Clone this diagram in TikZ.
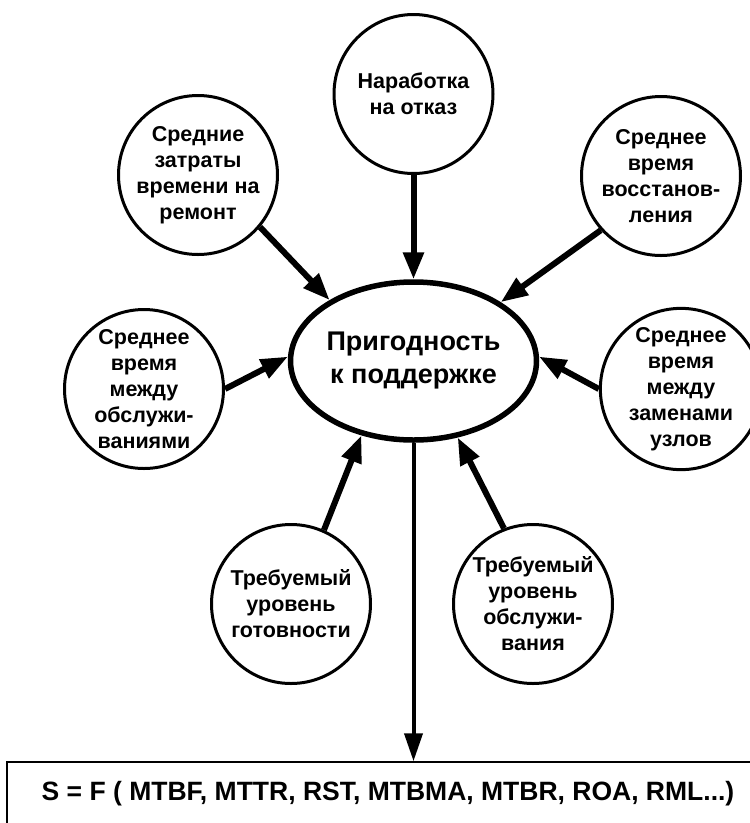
\documentclass[tikz,border=0pt]{standalone}
\usepackage{fontspec}
\setmainfont{Liberation Sans}
\usetikzlibrary{shapes.geometric,arrows.meta}

\begin{document}
\begin{tikzpicture}[x=1pt,y=-1pt,
	circ/.style={draw, circle, line width=3pt, minimum size=159pt, inner sep=0pt, align=center, font=\bfseries\fontsize{21.5}{26}\selectfont},
	arr/.style={line width=6pt, -{Triangle[length=27pt,width=20pt]}}]
	\useasboundingbox (0,0) rectangle (750,823);
	\clip (0,0) rectangle (750,823);
	\node (main) [draw, ellipse, line width=5.5pt, minimum width=242pt, minimum height=158pt, inner sep=0pt, align=center, font=\bfseries\fontsize{27}{33}\selectfont] at (413.5,361) {Пригодность\\к поддержке};
	\node (c1) [circ] at (413.5,94) {Наработка\\на отказ};
	\node (c2) [circ] at (198,175) {Средние\\затраты\\времени на\\ремонт};
	\node (c3) [circ] at (661,176) {Среднее\\время\\восстанов-\\ления};
	\node (c4) [circ] at (144,389) {Среднее\\время\\между\\обслужи-\\ваниями};
	\node (c5) [circ] at (681,389) {Среднее\\время\\между\\заменами\\узлов};
	\node (c6) [circ] at (291,604) {Требуемый\\уровень\\готовности};
	\node (c7) [circ] at (533,604) {Требуемый\\уровень\\обслужи-\\вания};
	\node (formula) [draw, rectangle, line width=1.5pt, minimum width=762pt, minimum height=64pt, font=\bfseries\fontsize{26.5}{31}\selectfont] at (388,794) {S = F ( MTBF, MTTR, RST, MTBMA, MTBR, ROA, RML...)};

	% Arrows
	\draw[arr] (c1) -- (main);
	\draw[arr] (c2.-40) -- (main.144);
	\draw[arr] (c3.-138) -- (main.34);
	\draw[arr] (c4.0) -- (main.178);
	\draw[arr] (c5.180) -- (main.2);
	\draw[arr] (c6.66) -- (main.-125);
	\draw[arr] (c7.111) -- (main.-60);
	\draw[line width=4pt, -{Triangle[length=28pt,width=18pt]}] (main) -- (main.south |- formula.north);
\end{tikzpicture}
\end{document}
